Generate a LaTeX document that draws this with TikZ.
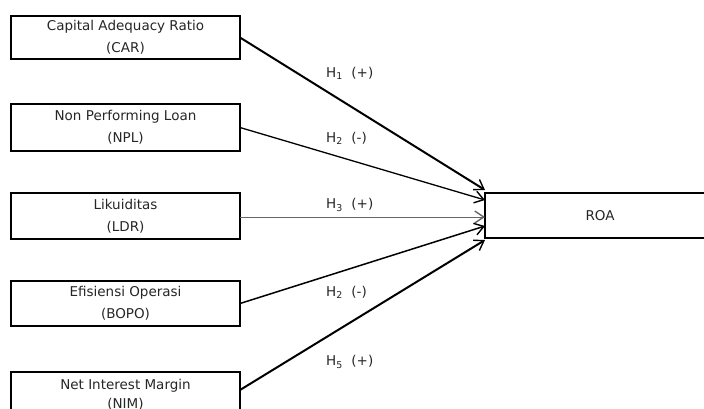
\documentclass[tikz,border=0pt]{standalone}
\usepackage{fontspec}
\setmainfont{DejaVu Sans}
\usetikzlibrary{arrows.meta}
\begin{document}
\begin{tikzpicture}[x=1pt,y=-1pt,
  box/.style={draw=black, line width=1.5pt, rectangle, minimum width=229pt, inner sep=0pt, outer sep=0pt, align=center, text=black!85, font=\fontsize{13.5}{22}\selectfont},
  lbl/.style={text=black!85, font=\fontsize{13.5}{16}\selectfont, inner sep=0pt, anchor=west},
  arr/.style={-{Straight Barb[length=9pt,width=12pt,line width=1.4pt]}, draw=black}
]
\useasboundingbox (0,0) rectangle (704,408);
\begin{scope}
\clip (0,0) rectangle (704,408);
\node[box, minimum height=43pt] (car) at (125.5,37.5) {Capital Adequacy Ratio\\(CAR)};
\node[box, minimum height=47pt] (npl) at (125.5,127.5) {Non Performing Loan\\(NPL)};
\node[box, minimum height=46pt] (ldr) at (125.5,216) {Likuiditas\\(LDR)};
\node[box, minimum height=45pt] (bopo) at (125.5,303.5) {Efisiensi Operasi\\(BOPO)};
\node[box, minimum height=45pt, font=\fontsize{13.5}{19}\selectfont] (nim) at (125.5,394.5) {Net Interest Margin\\(NIM)};
\node[box, minimum height=45pt, minimum width=230pt] (roa) at (600,215.5) {ROA};

\coordinate (t1) at (485,190);
\coordinate (t2) at (485,200);
\coordinate (t3) at (485,217);
\coordinate (t4) at (485,226);
\coordinate (t5) at (485,240);
\coordinate (s5) at (240,390);

\draw[arr, line width=2pt] (car.east) -- (t1);
\draw[arr, line width=1.3pt] (npl.east) -- (t2);
\draw[arr, line width=0.9pt, draw=black!60] ([yshift=-1pt]ldr.east) -- (t3);
\draw[arr, line width=1.5pt] (bopo.east) -- (t4);
\draw[arr, line width=2pt] (s5) -- (t5);

\node[lbl] (h1) at (326,73) {H\textsubscript{1}~~(+)};
\node[lbl] (h2) at (326,138) {H\textsubscript{2}~~(-)};
\node[lbl] (h3) at (326,205) {H\textsubscript{3}~~(+)};
\node[lbl] (h4) at (326,292) {H\textsubscript{2}~~(-)};
\node[lbl] (h5) at (326,362) {H\textsubscript{5}~~(+)};
\end{scope}
\end{tikzpicture}
\end{document}
